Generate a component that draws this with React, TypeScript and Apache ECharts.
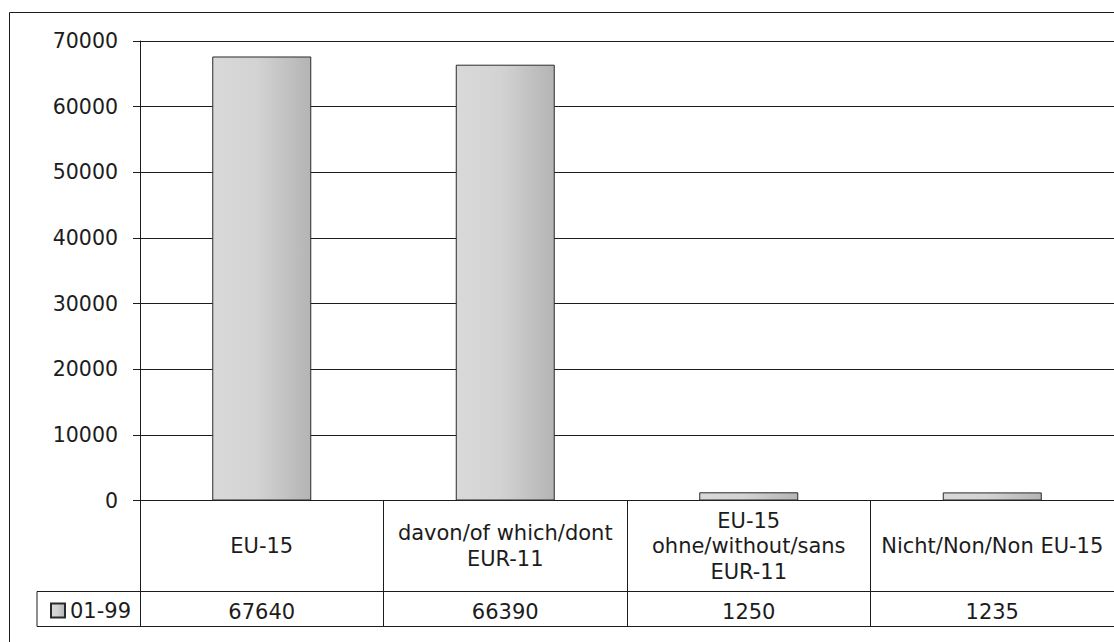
import React, { useEffect, useRef } from "react";
import * as echarts from "echarts";

const categories = [
  "EU-15",
  "davon/of which/dont\nEUR-11",
  "EU-15\nohne/without/sans\nEUR-11",
  "Nicht/Non/Non EU-15",
];
const seriesName = "01-99";
const values = [67640, 66390, 1250, 1235];
const yTicks = { min: 0, max: 70000, interval: 10000 };

const FONT = "DejaVu Sans";
const INK = "#1c1c1c";

export default function App() {
  const ref = useRef<HTMLDivElement>(null);
  useEffect(() => {
    document.body.style.margin = "0";
    const chart = echarts.init(ref.current!, null, { renderer: "svg" });
    const gridLeft = 140;
    const gridTop = 41;
    const gridH = 459.5;
    const axisY = gridTop + gridH;
    const row1 = 91;
    const row2 = 35;
    chart.setOption({
      animation: false,
      backgroundColor: "#ffffff",
      grid: { left: gridLeft, top: gridTop, width: 978, height: gridH, containLabel: false },
      legend: {
        data: [seriesName],
        left: 45,
        top: 595,
        icon: "rect",
        itemWidth: 14,
        itemHeight: 14,
        textStyle: { fontFamily: FONT, fontSize: 21, color: INK },
      },
      xAxis: [
        {
          type: "category",
          data: categories,
          position: "bottom",
          axisLine: { show: true, lineStyle: { color: INK, width: 1 } },
          axisTick: { show: true, length: row1, lineStyle: { color: INK, width: 1 } },
          axisLabel: {
            interval: 0,
            margin: 45.5,
            verticalAlign: "middle",
            fontFamily: FONT,
            fontSize: 21,
            lineHeight: 25.5,
            color: INK,
          },
          splitLine: { show: false },
        },
        {
          type: "category",
          data: values.map((v) => String(v)),
          position: "bottom",
          offset: row1,
          axisLine: { show: true, lineStyle: { color: INK, width: 1 } },
          axisTick: { show: true, length: row2, lineStyle: { color: INK, width: 1 } },
          axisLabel: {
            interval: 0,
            margin: 20,
            verticalAlign: "middle",
            fontFamily: FONT,
            fontSize: 21,
            color: INK,
          },
          splitLine: { show: false },
        },
      ],
      yAxis: {
        type: "value",
        min: yTicks.min,
        max: yTicks.max,
        interval: yTicks.interval,
        axisLine: { show: true, lineStyle: { color: INK, width: 1 } },
        axisTick: { show: true, length: 7, lineStyle: { color: INK, width: 1 } },
        axisLabel: {
          margin: 22,
          fontFamily: FONT,
          fontSize: 20.5,
          color: INK,
          formatter: (v: number) => String(v),
        },
        splitLine: { show: true, lineStyle: { color: INK, width: 1 } },
      },
      series: [
        {
          name: seriesName,
          type: "bar",
          xAxisIndex: 0,
          data: values,
          barWidth: 99,
          itemStyle: {
            color: new echarts.graphic.LinearGradient(0, 0, 1, 0, [
              { offset: 0, color: "#d9d9d9" },
              { offset: 0.45, color: "#d3d3d3" },
              { offset: 1, color: "#b4b4b4" },
            ]),
            borderColor: "#2a2a2a",
            borderWidth: 1,
          },
        },
      ],
      graphic: [
        {
          type: "rect",
          shape: { x: 9.5, y: 12.5, width: 1200, height: 700 },
          style: { fill: "none", stroke: INK, lineWidth: 1 },
          silent: true,
        },
        {
          type: "polyline",
          shape: {
            points: [
              [gridLeft, axisY + row1],
              [37, axisY + row1],
              [37, axisY + row1 + row2],
              [1114, axisY + row1 + row2],
            ],
          },
          style: { fill: "none", stroke: INK, lineWidth: 1 },
          silent: true,
        },
      ],
    });
    return () => chart.dispose();
  }, []);
  return <div ref={ref} style={{ width: 1114, height: 642 }} />;
}
